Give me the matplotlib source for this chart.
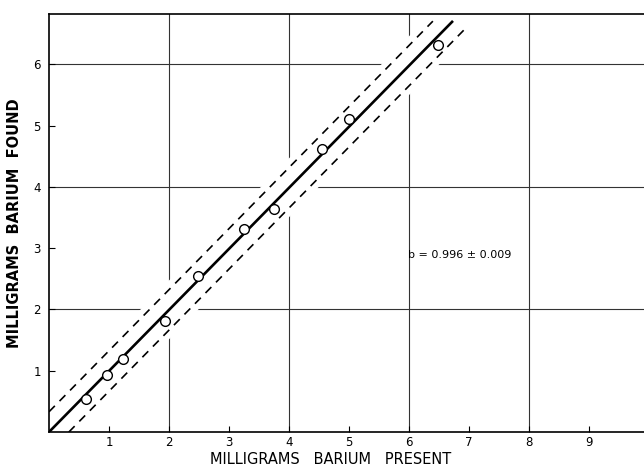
import numpy as np
import matplotlib.pyplot as plt

# Values
ba_present = [0.62, 0.97, 1.24, 1.93, 2.49, 3.25, 3.75, 4.55, 5.00, 6.48]
ba_found = [0.54, 0.93, 1.19, 1.81, 2.54, 3.31, 3.64, 4.62, 5.10, 6.31]
x_ticks = [1, 2, 3, 4, 5, 6, 7, 8, 9]
y_ticks = [1, 2, 3, 4, 5, 6]
slope = 0.996
band = 0.33

fig = plt.figure(figsize=(6.44, 4.68), dpi=100)
ax = fig.add_axes([0.0761, 0.0769, 0.9239, 0.893])
ax.set_xlim(0, 9.92)
ax.set_ylim(0, 6.82)

# grid at even values
for gx in [2, 4, 6, 8]:
    ax.axvline(gx, color='#333333', lw=0.8, zorder=1)
for gy in [2, 4, 6]:
    ax.axhline(gy, color='#333333', lw=0.8, zorder=1)

# white band that interrupts the grid around the fit
xb = np.array([0, 7.2])
ax.fill_between(xb, slope * xb - band - 0.15, slope * xb + band + 0.15,
                color='white', lw=0, zorder=1.5)

# fit line and confidence lines
xs = np.array([0, 6.72])
ax.plot(xs, slope * xs, color='black', lw=1.9, zorder=3)
xu = np.array([0, 6.40])
ax.plot(xu, slope * xu + band, color='black', lw=1.2, ls=(0, (5, 4)), zorder=3)
xl = np.array([band, 6.92])
ax.plot(xl, slope * xl - band, color='black', lw=1.2, ls=(0, (5, 4)), zorder=3)

ax.plot(ba_present, ba_found, 'o', ms=7, mfc='white', mec='black', mew=1.0, zorder=4)

ax.text(5.98, 2.89, 'b = 0.996 \u00b1 0.009', fontsize=8, va='center', ha='left',
        family='DejaVu Sans Condensed')

ax.set_xticks(x_ticks)
ax.set_yticks(y_ticks)
ax.tick_params(direction='in', length=4, width=0.8, labelsize=8.5)
ax.tick_params(axis='x', pad=3)
ax.tick_params(axis='y', pad=6)
for lab in ax.get_xticklabels() + ax.get_yticklabels():
    lab.set_family('DejaVu Sans Condensed')

for side in ['left', 'bottom', 'top']:
    ax.spines[side].set_linewidth(1.2)
ax.spines['right'].set_visible(False)

fig.text(331 / 644, 1 - 460 / 468, 'MILLIGRAMS   BARIUM   PRESENT', fontsize=10.5,
         ha='center', va='center', fontweight='medium')
ax.set_ylabel('MILLIGRAMS  BARIUM  FOUND', fontsize=10.5, fontweight='bold', labelpad=8)

fig.savefig('out.png', dpi=100)
